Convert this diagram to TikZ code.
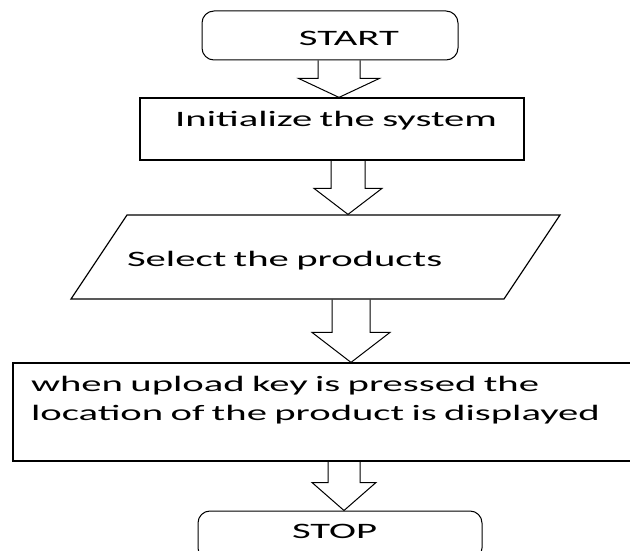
\documentclass[tikz,border=0pt]{standalone}
\usepackage{fontspec}
\setmainfont[FakeStretch=1.85]{Carlito}
\usetikzlibrary{shapes.geometric,calc}

\newcommand{\flowarrow}[6]{%
\draw[bigarrow] let \p1 = (#2.south), \p2 = (#3.north) in
    (#1pt-#4pt, \y1) -- (#1pt-#4pt, \y2+#6pt) -- (#1pt-#5pt, \y2+#6pt)
    -- (#1pt, \y2) -- (#1pt+#5pt, \y2+#6pt) -- (#1pt+#4pt, \y2+#6pt)
    -- (#1pt+#4pt, \y1);
}

\begin{document}
\begin{tikzpicture}[x=1pt, y=1pt,
    box/.style={draw, line width=1.2pt, inner sep=0pt,
        font=\fontsize{22}{29}\selectfont},
    term/.style={box, rounded corners=12pt, line width=1pt},
    bigarrow/.style={line width=1pt, line join=miter}]
\useasboundingbox (0,0) rectangle (630,550);
\clip (0,0) rectangle (630,550);

\node[term, minimum width=256pt, minimum height=49pt, text width=138pt,
    align=right, text height=21pt, text depth=0pt] (start) at (330,514.5) {START};
\node[box, minimum width=384pt, minimum height=62pt, text width=330pt,
    align=right, text height=14pt, text depth=18pt] (init) at (332,421)
    {Initialize the system};
\node[box, trapezium, trapezium left angle=56.3, trapezium right angle=123.7,
    text width=377pt, align=left, text height=52pt, text depth=32pt]
    (select) at (315.5,293) {Select the products};
\node[box, minimum width=627pt, minimum height=98pt, text width=591pt,
    align=left, text height=14pt, text depth=56pt] (locate) at (326.5,138)
    {when upload key is pressed the\\location of the product is displayed};
\node[term, minimum width=284pt, minimum height=49pt, text width=96pt,
    align=left, text height=14pt, text depth=9pt] (stop) at (340,14.5) {STOP};

\flowarrow{339}{start}{init}{21}{40.5}{19}
\flowarrow{348}{init}{select}{17}{34}{26}
\flowarrow{351}{select}{locate}{19}{39}{30}
\flowarrow{344}{locate}{stop}{16}{32}{28}

\end{tikzpicture}
\end{document}
